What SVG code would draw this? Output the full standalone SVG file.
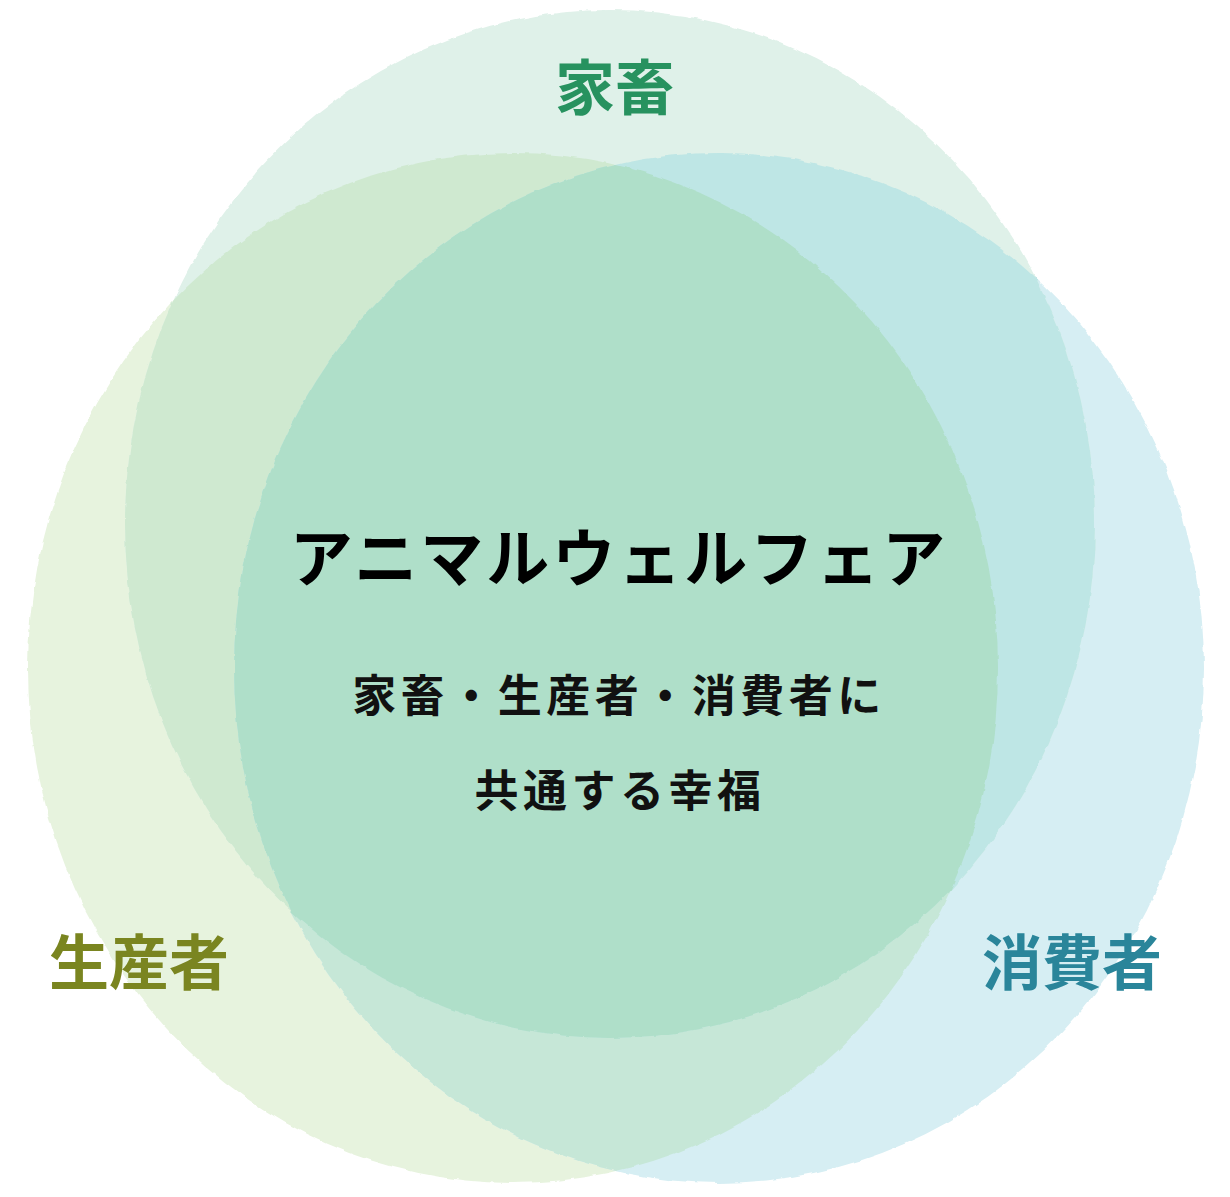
<svg xmlns="http://www.w3.org/2000/svg" xmlns:xlink="http://www.w3.org/1999/xlink" width="1230" height="1197" viewBox="0 0 1230 1197">
  <style>
    .jp { font-family: "Noto Sans CJK JP", "Noto Sans CJK SC", sans-serif; font-weight: 700; }
    .label { font-size: 60px; text-anchor: middle; }
    .title { font-size: 63px; fill: #000000; letter-spacing: 3px; text-anchor: middle; }
    .sub { font-size: 44px; fill: #111111; letter-spacing: 4.5px; text-anchor: middle; }
  </style>
  <defs>
    <ellipse id="eT" cx="610" cy="524" rx="485" ry="514"/>
    <ellipse id="eL" cx="513" cy="668" rx="485" ry="515"/>
    <ellipse id="eR" cx="719" cy="668" rx="485" ry="515"/>
    <clipPath id="cL"><use xlink:href="#eL" href="#eL"/></clipPath>
    <clipPath id="cR"><use xlink:href="#eR" href="#eR"/></clipPath>
    <filter id="rough" filterUnits="userSpaceOnUse" x="0" y="0" width="1230" height="1197">
      <feTurbulence type="fractalNoise" baseFrequency="0.08" numOctaves="2" seed="3" result="n"/>
      <feDisplacementMap in="SourceGraphic" in2="n" scale="4" xChannelSelector="R" yChannelSelector="G"/>
    </filter>
  </defs>

  <g id="venn" filter="url(#rough)">
    <g id="node-seisansha"><use xlink:href="#eL" href="#eL" fill="#e7f3de"/></g>
    <g id="node-shohisha"><use xlink:href="#eR" href="#eR" fill="#d6eef3"/></g>
    <g id="node-kachiku"><use xlink:href="#eT" href="#eT" fill="#dff1e9"/></g>
    <g id="overlaps">
      <use xlink:href="#eL" href="#eL" fill="#c6e7d7" clip-path="url(#cR)"/>
      <use xlink:href="#eT" href="#eT" fill="#cfe9d0" clip-path="url(#cL)"/>
      <use xlink:href="#eT" href="#eT" fill="#bee6e5" clip-path="url(#cR)"/>
      <g clip-path="url(#cL)">
        <use xlink:href="#eT" href="#eT" fill="#afdfc9" clip-path="url(#cR)"/>
      </g>
    </g>
  </g>

  <g id="label-kachiku"><text class="jp label" x="615" y="110" fill="#27925f">家畜</text></g>
  <g id="label-seisansha"><text class="jp label" x="139" y="985" fill="#7a8520">生産者</text></g>
  <g id="label-shohisha"><text class="jp label" x="1072" y="985" fill="#2a859a">消費者</text></g>

  <g id="center-text">
    <text class="jp title" x="619" y="581">アニマルウェルフェア</text>
    <text class="jp sub" x="619" y="712">家畜・生産者・消費者に</text>
    <text class="jp sub" x="620" y="807">共通する幸福</text>
  </g>
</svg>
